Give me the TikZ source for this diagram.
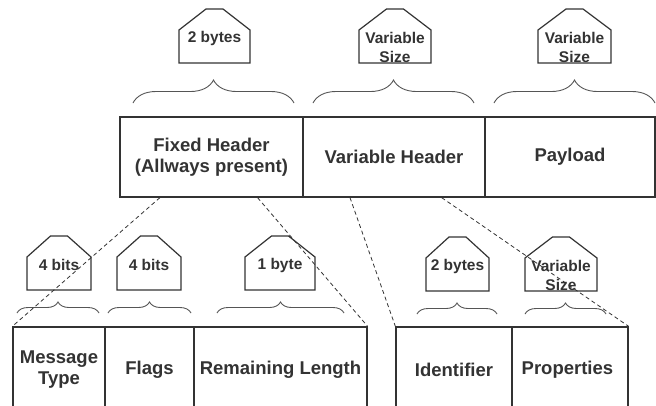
\documentclass[tikz,border=0pt]{standalone}
\usepackage{fontspec}
\setmainfont{Liberation Sans}
\usepackage{tikz}
\usepackage{xcolor}
\usetikzlibrary{calc,decorations.pathreplacing}
\definecolor{edge}{RGB}{51, 51, 51}
\definecolor{soft}{RGB}{85, 85, 85}
\tikzstyle{field} = [
    rectangle,
    draw=edge,
    line width=1.3pt,
    inner sep=0pt,
    text centered,
    align=center,
    text=edge,
    font=\fontsize{18.5}{21}\selectfont\bfseries
]
\tikzstyle{sizetag} = [
    rectangle,
    inner sep=0pt,
    align=center,
    text=edge,
    font=\fontsize{15.5}{19}\selectfont\bfseries
]
\tikzstyle{tagline} = [
    draw=edge,
    line width=1.2pt
]
\tikzstyle{bigbrace} = [
    draw=soft,
    line width=0.9pt,
    decorate,
    decoration={brace, amplitude=23pt}
]
\tikzstyle{smallbrace} = [
    draw=soft,
    line width=0.9pt,
    decorate,
    decoration={brace, amplitude=11pt}
]
\tikzstyle{split} = [
    draw=edge,
    line width=0.8pt,
    dash pattern=on 4pt off 3pt
]
% house shaped size tag: x, y, width, name, text drop, text
\newcommand{\housetag}[6]{%
    \draw[tagline] (#1-#3/2,#2+27) -- (#1-#3/2,#2-6)
        -- (#1-8.5,#2-27) -- (#1+8.5,#2-27)
        -- (#1+#3/2,#2-6) -- (#1+#3/2,#2+27) -- cycle;
    \node[sizetag] (#4) at (#1,#2+#5) {#6};
}
\begin{document}
\begin{tikzpicture}[x=1pt, y=-1pt]
    \useasboundingbox (0,0) rectangle (656,405);
    \clip (0,0) rectangle (656,405);
    % packet fields
    \foreach \px/\py/\pw/\ph/\pname/\plabel in {
        211.5/157/183/80/fixed/{Fixed Header\\(Allways present)},
        394/157/182/80/varhead/{Variable Header},
        570/157/170/80/payload/{Payload},
        59/370/92/86/msgtype/{Message\\Type},
        149.5/370/89/86/flags/{Flags},
        280.5/370/173/86/remlen/{Remaining Length},
        454/370/116/86/ident/{Identifier},
        570/370/116/86/props/{Properties}
    } {
        \node[field, minimum width=\pw pt, minimum height=\ph pt] (\pname)
            at (\px,\py) {\plabel};
    }
    % size tags
    \housetag{214.5}{36}{71}{tfixed}{2}{2 bytes}
    \housetag{395}{36}{72}{tvarhead}{11.5}{Variable\\Size}
    \housetag{574.5}{36}{73}{tpayload}{11.5}{Variable\\Size}
    \housetag{59}{263}{64}{tmsgtype}{2}{4 bits}
    \housetag{149}{263}{64}{tflags}{2}{4 bits}
    \housetag{280}{263}{70}{tremlen}{2}{1 byte}
    \housetag{457.5}{264}{63}{tident}{2}{2 bytes}
    \housetag{561}{264}{72}{tprops}{11.5}{Variable\\Size}
    % braces
    \draw[bigbrace] (133,103) -- (294,103);
    \draw[bigbrace] (313,103) -- (474,103);
    \draw[bigbrace] (494,103) -- (655,103);
    \draw[smallbrace] (17,313) -- (99,313);
    \draw[smallbrace] (108,313) -- (191,313);
    \draw[smallbrace] (217,313) -- (344,313);
    \draw[smallbrace] (417,314) -- (497,314);
    \draw[smallbrace] (525,314) -- (606,314);
    % breakdown lines
    \draw[split] ($(fixed.south west)!0.22!(fixed.south east)$) -- (msgtype.north west);
    \draw[split] ($(fixed.south west)!0.75!(fixed.south east)$) -- (remlen.north east);
    \draw[split] ($(varhead.south west)!0.26!(varhead.south east)$) -- (ident.north west);
    \draw[split] ($(varhead.south west)!0.76!(varhead.south east)$) -- (props.north east);
\end{tikzpicture}
\end{document}
